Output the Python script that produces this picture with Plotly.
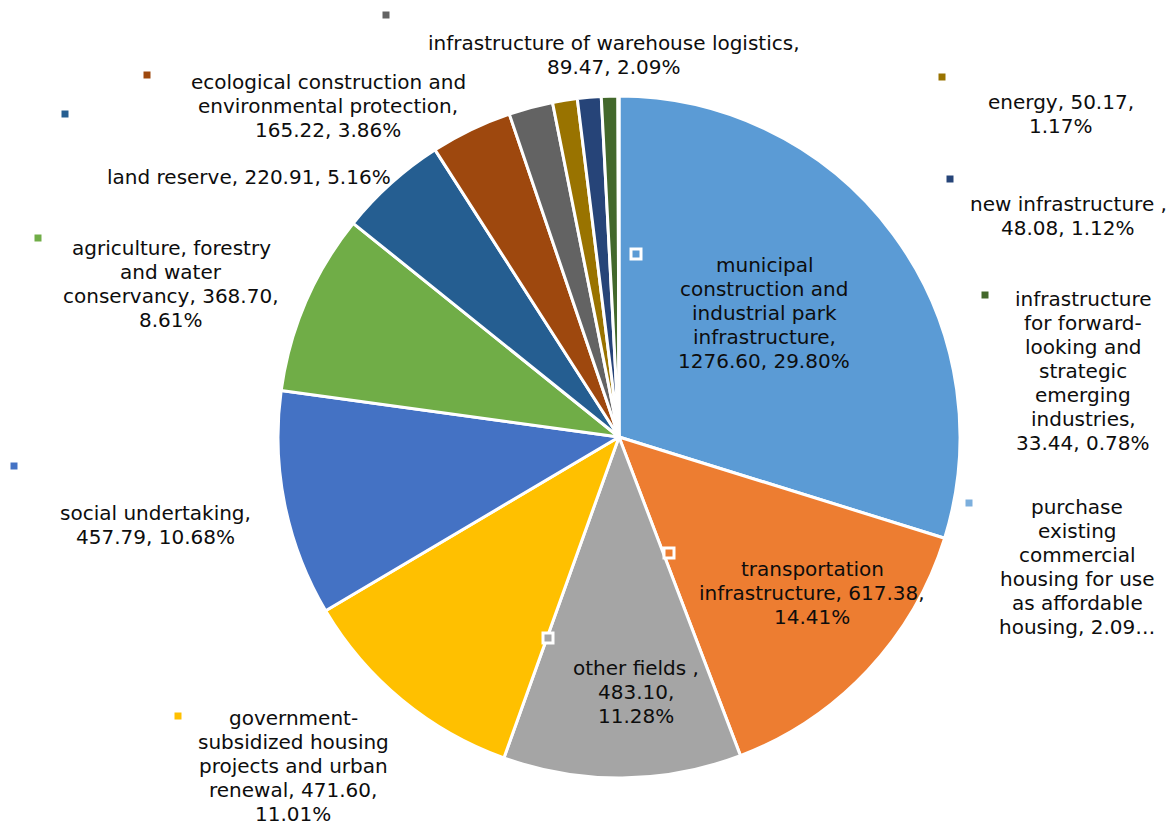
import plotly.graph_objects as go

W, H = 1172, 822

# ---- data ----
categories = [
    "municipal construction and industrial park infrastructure",
    "transportation infrastructure",
    "other fields ",
    "government-subsidized housing projects and urban renewal",
    "social undertaking",
    "agriculture, forestry and water conservancy",
    "land reserve",
    "ecological construction and environmental protection",
    "infrastructure of warehouse logistics",
    "energy",
    "new infrastructure ",
    "infrastructure for forward-looking and strategic emerging industries",
    "purchase existing commercial housing for use as affordable housing",
]
values = [1276.60, 617.38, 483.10, 471.60, 457.79, 368.70, 220.91, 165.22,
          89.47, 50.17, 48.08, 33.44, 2.09]
colors = ["#5B9BD5", "#ED7D31", "#A5A5A5", "#FFC000", "#4472C4", "#70AD47",
          "#255E91", "#9E480E", "#636363", "#997300", "#264478", "#43682B",
          "#7CAFDD"]
label_texts = [
    "municipal<br>construction and<br>industrial park<br>infrastructure,<br>1276.60, 29.80%",
    "transportation<br>infrastructure, 617.38,<br>14.41%",
    "other fields ,<br>483.10,<br>11.28%",
    "government-<br>subsidized housing<br>projects and urban<br>renewal, 471.60,<br>11.01%",
    "social undertaking,<br>457.79, 10.68%",
    "agriculture, forestry<br>and water<br>conservancy, 368.70,<br>8.61%",
    "land reserve, 220.91, 5.16%",
    "ecological construction and<br>environmental protection,<br>165.22, 3.86%",
    "infrastructure of warehouse logistics,<br>89.47, 2.09%",
    "energy, 50.17,<br>1.17%",
    "new infrastructure ,<br>48.08, 1.12%",
    "infrastructure<br>for forward-<br>looking and<br>strategic<br>emerging<br>industries,<br>33.44, 0.78%",
    "purchase<br>existing<br>commercial<br>housing for use<br>as affordable<br>housing, 2.09…",
]

# ---- layout (pixel positions of label centres and legend keys) ----
label_pos = [(764, 313), (812, 593), (636, 692), (293, 766), (155, 525),
             (171, 284), (249, 177), (328, 106), (614, 55), (1061, 114),
             (1068, 216), (1083, 371), (1077, 567)]
key_pos = [(636, 254), (669, 553), (548, 638), (178, 716), (14, 466),
           (38, 238), (65, 114), (147, 75), (386, 15), (942, 77),
           (950, 179), (985, 295), (969, 503)]
inside = [True, True, True] + [False] * 10
LINE_H = 24
FONT_SIZE = 20

CX, CY, R = 619, 437, 341


def px(x):
    return x / W


def py(y):
    return 1 - y / H


fig = go.Figure(go.Pie(
    labels=categories,
    values=values,
    sort=False,
    direction="clockwise",
    rotation=0,
    textinfo="none",
    marker=dict(colors=colors, line=dict(color="white", width=3)),
    domain=dict(x=[px(CX - R), px(CX + R)], y=[py(CY + R), py(CY - R)]),
    showlegend=False,
))

annotations = []
shapes = []
for txt, (lx, ly), (kx, ky), col, ins in zip(label_texts, label_pos, key_pos, colors, inside):
    lines = txt.split("<br>")
    n = len(lines)
    for i, line in enumerate(lines):
        yy = ly + (i - (n - 1) / 2) * LINE_H
        annotations.append(dict(
            x=px(lx), y=py(yy), xref="paper", yref="paper",
            text=line, showarrow=False, xanchor="center", yanchor="middle",
            align="center",
            font=dict(family="DejaVu Sans", size=FONT_SIZE, color="#0d0d0d"),
        ))
    if ins:
        s = 5
        shapes.append(dict(type="rect", xref="paper", yref="paper",
                           x0=px(kx - s), x1=px(kx + s), y0=py(ky + s), y1=py(ky - s),
                           fillcolor=col, line=dict(color="white", width=3)))
    else:
        s = 3.5
        shapes.append(dict(type="rect", xref="paper", yref="paper",
                           x0=px(kx - s), x1=px(kx + s), y0=py(ky + s), y1=py(ky - s),
                           fillcolor=col, line=dict(width=0)))

fig.update_layout(
    width=W, height=H,
    margin=dict(l=0, r=0, t=0, b=0),
    paper_bgcolor="white", plot_bgcolor="white",
    annotations=annotations, shapes=shapes,
)

fig.write_html("out.html", config={"displayModeBar": False},
               post_script="document.body.style.margin='0';")
